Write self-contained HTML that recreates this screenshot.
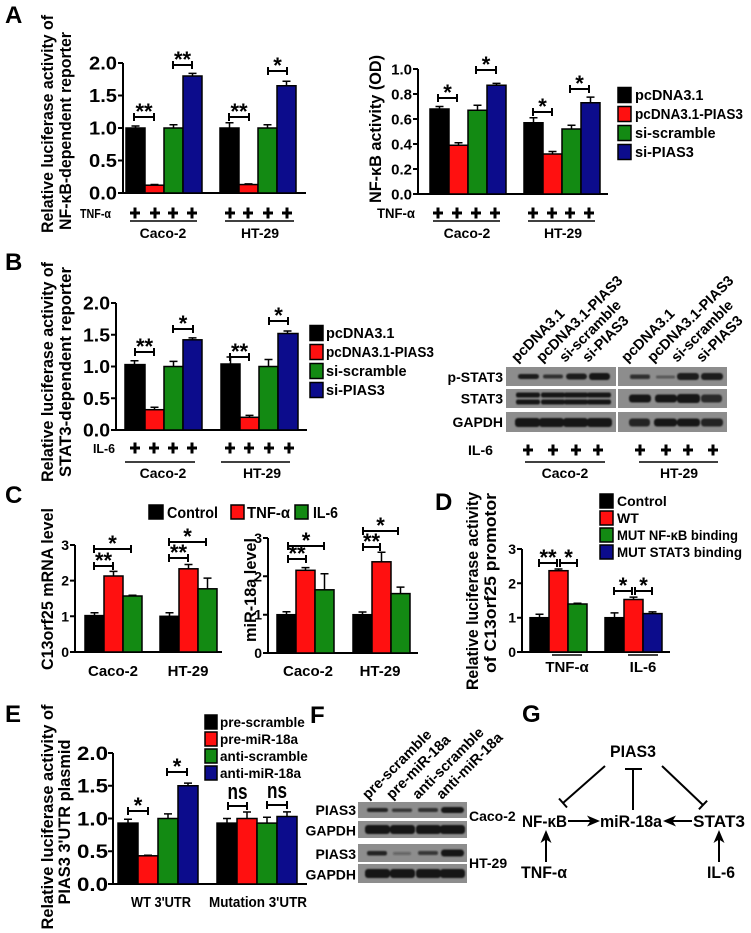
<!DOCTYPE html>
<html><head><meta charset="utf-8"><style>
html,body{margin:0;padding:0;background:#fff;}
svg{display:block;}
text{font-family:"Liberation Sans",Arial,sans-serif;font-weight:bold;fill:#000;}
.ax{stroke:#000;stroke-width:2;fill:none;}
.eb{stroke:#000;stroke-width:1.5;fill:none;}
.br{stroke:#000;stroke-width:2;fill:none;}
.ul{stroke:#000;stroke-width:1.5;fill:none;}
.k{fill:#000;stroke:#000;stroke-width:1.5}
.r{fill:#ff1010;stroke:#000;stroke-width:1.5}
.g{fill:#138a13;stroke:#000;stroke-width:1.5}
.b{fill:#0c0c8c;stroke:#000;stroke-width:1.5}
.pl{stroke:#000;stroke-width:3;fill:none}
.bg{fill:#8d8d8d}
</style></head><body>
<svg width="751" height="933" viewBox="0 0 751 933" xmlns="http://www.w3.org/2000/svg">
<defs><filter id="bl" x="-20%" y="-50%" width="140%" height="200%"><feGaussianBlur stdDeviation="0.9"/></filter></defs>

<!-- ===== Panel A left ===== -->
<text x="5" y="23" font-size="24">A</text>
<text transform="translate(53,124) rotate(-90)" text-anchor="middle" font-size="17" textLength="218" lengthAdjust="spacingAndGlyphs">Relative luciferase activity of</text>
<text transform="translate(71,131) rotate(-90)" text-anchor="middle" font-size="17" textLength="198" lengthAdjust="spacingAndGlyphs">NF-κB-dependent reporter</text>
<path class="ax" d="M123 63V193H306M118 63H123M118 95.5H123M118 128H123M118 160.5H123M118 193H123"/>
<g font-size="18" text-anchor="end">
<text x="117" y="69.5" textLength="28" lengthAdjust="spacingAndGlyphs">2.0</text>
<text x="117" y="102" textLength="28" lengthAdjust="spacingAndGlyphs">1.5</text>
<text x="117" y="134.5" textLength="28" lengthAdjust="spacingAndGlyphs">1.0</text>
<text x="117" y="167" textLength="28" lengthAdjust="spacingAndGlyphs">0.5</text>
<text x="117" y="199.5" textLength="28" lengthAdjust="spacingAndGlyphs">0.0</text>
</g>
<path class="eb" d="M135.5 128V126M131.5 126h8M154.5 185.2V184.5M150.5 184.5h8M173.5 128V124.7M169.5 124.7h8M192.5 76V73.4M188.5 73.4h8M229.5 128V122.8M225.5 122.8h8M248.5 184.5V183.9M244.5 183.9h8M267.5 128V124.7M263.5 124.7h8M286.5 85.75V81.2M282.5 81.2h8"/>
<rect class="k" x="126" y="128" width="19" height="65"/>
<rect class="r" x="145" y="185.2" width="19" height="7.8"/>
<rect class="g" x="164" y="128" width="19" height="65"/>
<rect class="b" x="183" y="76" width="19" height="117"/>
<rect class="k" x="220" y="128" width="19" height="65"/>
<rect class="r" x="239" y="184.55" width="19" height="8.45"/>
<rect class="g" x="258" y="128" width="19" height="65"/>
<rect class="b" x="277" y="85.75" width="19" height="107.25"/>
<path class="br" d="M134 113V121M134 117H154M154 113V121M173 61V69M173 65H192M192 61V69M229 113V121M229 117H249M249 113V121M268 67V75M268 71H287M287 67V75"/>
<g font-size="22" text-anchor="middle">
<text x="144" y="119">**</text><text x="182.5" y="67">**</text><text x="239" y="119">**</text><text x="277.5" y="73">*</text>
</g>
<text x="80" y="218" font-size="13" textLength="31" lengthAdjust="spacingAndGlyphs">TNF-α</text>
<path class="pl" d="M130 213h10M135 207.5v11M150 213h10M155 207.5v11M168 213h10M173 207.5v11M187 213h10M192 207.5v11M225 213h10M230 207.5v11M243 213h10M248 207.5v11M263 213h10M268 207.5v11M282 213h10M287 207.5v11"/>
<path class="ul" d="M130 221H197M225 221H294"/>
<g font-size="14" text-anchor="middle"><text x="163" y="238">Caco-2</text><text x="260" y="238">HT-29</text></g>

<!-- ===== Panel A right ===== -->
<text transform="translate(381,129) rotate(-90)" text-anchor="middle" font-size="17" textLength="148" lengthAdjust="spacingAndGlyphs">NF-κB activity (OD)</text>
<path class="ax" d="M418 69V194H608M413 69H418M413 94H418M413 119H418M413 144H418M413 169H418M413 194H418"/>
<g font-size="15" text-anchor="end">
<text x="412" y="74.5">1.0</text><text x="412" y="99.5">0.8</text><text x="412" y="124.5">0.6</text><text x="412" y="149.5">0.4</text><text x="412" y="174.5">0.2</text><text x="412" y="199.5">0.0</text>
</g>
<path class="eb" d="M439.5 109V106.5M435.5 106.5h8M458.5 145.25V142.75M454.5 142.75h8M477.5 110.25V105.25M473.5 105.25h8M496.5 85.25V83.4M492.5 83.4h8M533.5 122.75V117.75M529.5 117.75h8M552.5 154V151.5M548.5 151.5h8M571.5 129V125.25M567.5 125.25h8M590.5 102.75V97.1M586.5 97.1h8"/>
<rect class="k" x="430" y="109" width="19" height="85"/>
<rect class="r" x="449" y="145.25" width="19" height="48.75"/>
<rect class="g" x="468" y="110.25" width="19" height="83.75"/>
<rect class="b" x="487" y="85.25" width="19" height="108.75"/>
<rect class="k" x="524" y="122.75" width="19" height="71.25"/>
<rect class="r" x="543" y="154" width="19" height="40"/>
<rect class="g" x="562" y="129" width="19" height="65"/>
<rect class="b" x="581" y="102.75" width="19" height="91.25"/>
<path class="br" d="M438 94V102M438 98H457M457 94V102M476 66V74M476 70H496M496 66V74M533 108V116M533 112H552M552 108V116M570 85V93M570 89H589M589 85V93"/>
<g font-size="22" text-anchor="middle">
<text x="447.5" y="100">*</text><text x="486" y="72">*</text><text x="542.5" y="114">*</text><text x="579.5" y="91">*</text>
</g>
<rect class="k" x="618" y="87.5" width="13" height="15"/>
<rect class="r" x="618" y="106.5" width="13" height="15"/>
<rect class="g" x="618" y="125.5" width="13" height="15"/>
<rect class="b" x="618" y="144.5" width="13" height="15"/>
<g font-size="14.5">
<text x="635" y="100">pcDNA3.1</text><text x="635" y="119" textLength="108" lengthAdjust="spacingAndGlyphs">pcDNA3.1-PIAS3</text><text x="635" y="138">si-scramble</text><text x="635" y="157">si-PIAS3</text>
</g>
<text x="377" y="218" font-size="14" textLength="38" lengthAdjust="spacingAndGlyphs">TNF-α</text>
<path class="pl" d="M433 213h10M438 207.5v11M452 213h10M457 207.5v11M471 213h10M476 207.5v11M490 213h10M495 207.5v11M528 213h10M533 207.5v11M547 213h10M552 207.5v11M565 213h10M570 207.5v11M584 213h10M589 207.5v11"/>
<path class="ul" d="M433 221H500M528 221H595"/>
<g font-size="14" text-anchor="middle"><text x="467" y="238">Caco-2</text><text x="563" y="238">HT-29</text></g>

<!-- ===== Panel B left ===== -->
<text x="5" y="270" font-size="24">B</text>
<text transform="translate(53,372) rotate(-90)" text-anchor="middle" font-size="17" textLength="220" lengthAdjust="spacingAndGlyphs">Relative luciferase activity of</text>
<text transform="translate(71,372) rotate(-90)" text-anchor="middle" font-size="17" textLength="210" lengthAdjust="spacingAndGlyphs">STAT3-dependent reporter</text>
<path class="ax" d="M116 303V430H307M111 303H116M111 334.75H116M111 366.5H116M111 398.25H116M111 430H116"/>
<g font-size="18" text-anchor="end">
<text x="110" y="309.5" textLength="27" lengthAdjust="spacingAndGlyphs">2.0</text>
<text x="110" y="341.25" textLength="27" lengthAdjust="spacingAndGlyphs">1.5</text>
<text x="110" y="373" textLength="27" lengthAdjust="spacingAndGlyphs">1.0</text>
<text x="110" y="404.75" textLength="27" lengthAdjust="spacingAndGlyphs">0.5</text>
<text x="110" y="436.5" textLength="27" lengthAdjust="spacingAndGlyphs">0.0</text>
</g>
<path class="eb" d="M134.5 364.6V360.8M130.5 360.8h8M154.5 409.7V407.2M150.5 407.2h8M173.5 366.5V361.4M169.5 361.4h8M192.5 339.8V337.9M188.5 337.9h8M230.5 364V357M226.5 357h8M249.5 417.3V415.4M245.5 415.4h8M268.5 366.5V359.5M264.5 359.5h8M287.5 333.5V331M283.5 331h8"/>
<rect class="k" x="125" y="364.6" width="20" height="65.4"/>
<rect class="r" x="145" y="409.7" width="19" height="20.3"/>
<rect class="g" x="164" y="366.5" width="19" height="63.5"/>
<rect class="b" x="183" y="339.8" width="19" height="90.2"/>
<rect class="k" x="221" y="364" width="19" height="66"/>
<rect class="r" x="240" y="417.3" width="19" height="12.7"/>
<rect class="g" x="259" y="366.5" width="19" height="63.5"/>
<rect class="b" x="278" y="333.5" width="20" height="96.5"/>
<path class="br" d="M135 348V356M135 352H154M154 348V356M173 325V333M173 329H193M193 325V333M230 353V361M230 357H249M249 353V361M269 317V325M269 321H288M288 317V325"/>
<g font-size="22" text-anchor="middle">
<text x="144.5" y="354">**</text><text x="183" y="331">*</text><text x="239.5" y="359">**</text><text x="278.5" y="323">*</text>
</g>
<text x="93" y="453" font-size="13" textLength="22" lengthAdjust="spacingAndGlyphs">IL-6</text>
<path class="pl" d="M130 448h10M135 442.5v11M149 448h10M154 442.5v11M168 448h10M173 442.5v11M187 448h10M192 442.5v11M225 448h10M230 442.5v11M244 448h10M249 442.5v11M264 448h10M269 442.5v11M284 448h10M289 442.5v11"/>
<path class="ul" d="M125 462H195M221 462H290"/>
<g font-size="14" text-anchor="middle"><text x="163" y="478">Caco-2</text><text x="262" y="478">HT-29</text></g>
<rect class="k" x="310" y="325.5" width="13" height="15"/>
<rect class="r" x="310" y="344.5" width="13" height="15"/>
<rect class="g" x="310" y="363.5" width="13" height="15"/>
<rect class="b" x="310" y="382.5" width="13" height="15"/>
<g font-size="14.5">
<text x="326" y="338">pcDNA3.1</text><text x="326" y="357" textLength="108" lengthAdjust="spacingAndGlyphs">pcDNA3.1-PIAS3</text><text x="326" y="376">si-scramble</text><text x="326" y="395">si-PIAS3</text>
</g>

<!-- ===== Panel B blot ===== -->
<g font-size="14.5">
<text transform="translate(517,363) rotate(-45)">pcDNA3.1</text>
<text transform="translate(542,363) rotate(-45)">pcDNA3.1-PIAS3</text>
<text transform="translate(565,363) rotate(-45)">si-scramble</text>
<text transform="translate(588,363) rotate(-45)">si-PIAS3</text>
<text transform="translate(627,363) rotate(-45)">pcDNA3.1</text>
<text transform="translate(653,363) rotate(-45)">pcDNA3.1-PIAS3</text>
<text transform="translate(677,363) rotate(-45)">si-scramble</text>
<text transform="translate(702,363) rotate(-45)">si-PIAS3</text>
</g>
<rect class="bg" x="506" y="367" width="110" height="19"/>
<rect class="bg" x="618" y="367" width="109" height="19"/>
<rect class="bg" x="506" y="389" width="110" height="19"/>
<rect class="bg" x="618" y="389" width="109" height="19"/>
<rect class="bg" x="506" y="412" width="110" height="20"/>
<rect class="bg" x="618" y="412" width="109" height="20"/>
<g filter="url(#bl)" fill="#151515">
<rect x="518" y="374" width="21" height="5" rx="2.5" opacity=".95"/>
<rect x="543" y="374.5" width="20" height="4" rx="2" opacity=".8"/>
<rect x="566" y="373.5" width="21" height="6" rx="3" opacity=".95"/>
<rect x="589" y="373" width="21" height="7" rx="3"/>
<rect x="630" y="374.5" width="20" height="4.5" rx="2" opacity=".75"/>
<rect x="656" y="375.5" width="19" height="3" rx="1.5" opacity=".45"/>
<rect x="677" y="373" width="22" height="7" rx="3" opacity=".95"/>
<rect x="701" y="373" width="22" height="7" rx="3" opacity=".95"/>
<rect x="516" y="392.5" width="24" height="5" rx="2"/>
<rect x="541" y="392.5" width="24" height="5" rx="2"/>
<rect x="564" y="392.5" width="24" height="5" rx="2"/>
<rect x="587" y="392.5" width="24" height="5" rx="2"/>
<rect x="516" y="399.5" width="24" height="5" rx="2"/>
<rect x="541" y="399.5" width="24" height="5" rx="2"/>
<rect x="564" y="399.5" width="24" height="5" rx="2"/>
<rect x="587" y="399.5" width="24" height="5" rx="2"/>
<rect x="629" y="394.5" width="22" height="8" rx="3"/>
<rect x="655" y="394.5" width="22" height="8" rx="3"/>
<rect x="677" y="394" width="23" height="9" rx="3"/>
<rect x="701" y="394.5" width="21" height="8" rx="3" opacity=".85"/>
<rect x="515" y="418" width="25" height="9" rx="3"/>
<rect x="539" y="418" width="25" height="9" rx="3"/>
<rect x="563" y="418" width="25" height="9" rx="3"/>
<rect x="587" y="418" width="25" height="9" rx="3"/>
<rect x="629" y="418.5" width="21" height="8" rx="3" opacity=".9"/>
<rect x="654" y="418.5" width="23" height="8" rx="3"/>
<rect x="677" y="418.5" width="23" height="8" rx="3"/>
<rect x="701" y="418.5" width="22" height="8" rx="3" opacity=".9"/>
</g>
<g font-size="14" text-anchor="end">
<text x="503" y="382">p-STAT3</text><text x="503" y="403.5">STAT3</text><text x="503" y="427">GAPDH</text>
</g>
<text x="468" y="455" font-size="14" textLength="25" lengthAdjust="spacingAndGlyphs">IL-6</text>
<path class="pl" d="M523 450h10M528 444.5v11M548 450h10M553 444.5v11M571 450h10M576 444.5v11M593 450h10M598 444.5v11M635 450h10M640 444.5v11M661 450h10M666 444.5v11M683 450h10M688 444.5v11M708 450h10M713 444.5v11"/>
<path class="ul" d="M525 462H605M639 462H718"/>
<g font-size="14" text-anchor="middle"><text x="565" y="478">Caco-2</text><text x="679" y="478">HT-29</text></g>

<!-- ===== Panel C ===== -->
<text x="5" y="503" font-size="24">C</text>
<rect class="k" x="149" y="505" width="14" height="14"/>
<text x="167" y="518" font-size="16" textLength="51" lengthAdjust="spacingAndGlyphs">Control</text>
<rect class="r" x="231" y="505" width="13" height="14"/>
<text x="247" y="518" font-size="16" textLength="43" lengthAdjust="spacingAndGlyphs">TNF-α</text>
<rect class="g" x="295" y="505" width="13" height="14"/>
<text x="313" y="518" font-size="16" textLength="25" lengthAdjust="spacingAndGlyphs">IL-6</text>

<text transform="translate(53,589) rotate(-90)" text-anchor="middle" font-size="17" textLength="162" lengthAdjust="spacingAndGlyphs">C13orf25 mRNA level</text>
<path class="ax" d="M75 545V652H222M70 545H75M70 580.6H75M70 616.3H75M70 652H75"/>
<g font-size="14" text-anchor="end">
<text x="69" y="550">3</text><text x="69" y="585.6">2</text><text x="69" y="621.3">1</text><text x="69" y="657">0</text>
</g>
<path class="eb" d="M94.5 615.6V612.7M90.5 612.7h8M113.5 576V571.4M109.5 571.4h8M132.5 596V595.3M128.5 595.3h8M169.5 616.3V612.7M165.5 612.7h8M188.5 568.8V564.5M184.5 564.5h8M207.5 588.8V578.1M203.5 578.1h8"/>
<rect class="k" x="85" y="615.6" width="19" height="36.4"/>
<rect class="r" x="104" y="576" width="19" height="76"/>
<rect class="g" x="123" y="596" width="19" height="56"/>
<rect class="k" x="160" y="616.3" width="19" height="35.7"/>
<rect class="r" x="179" y="568.8" width="19" height="83.2"/>
<rect class="g" x="198" y="588.8" width="19" height="63.2"/>
<path class="br" d="M94 562V570M94 566H113M113 562V570M94 545V553M94 549H131M131 545V553M169 554V562M169 558H188M188 554V562M169 538V546M169 542H206M206 538V546"/>
<g font-size="22" text-anchor="middle">
<text x="103.5" y="568">**</text><text x="112.5" y="551">*</text><text x="178.5" y="560">**</text><text x="187.5" y="544">*</text>
</g>
<g font-size="15" text-anchor="middle"><text x="113" y="676">Caco-2</text><text x="188" y="676">HT-29</text></g>

<text transform="translate(256,590) rotate(-90)" text-anchor="middle" font-size="17" textLength="104" lengthAdjust="spacingAndGlyphs">miR-18a level</text>
<path class="ax" d="M268 538V653H418M263 538H268M263 576.3H268M263 614.7H268M263 653H268"/>
<g font-size="14" text-anchor="end">
<text x="262" y="543">3</text><text x="262" y="581.3">2</text><text x="262" y="619.7">1</text><text x="262" y="658">0</text>
</g>
<path class="eb" d="M286.5 614.7V611.7M282.5 611.7h8M305.5 570.3V567.6M301.5 567.6h8M324.5 589.8V573.7M320.5 573.7h8M362.5 614.7V612M358.5 612h8M381.5 561.8V552.2M377.5 552.2h8M400.5 593.6V587.1M396.5 587.1h8"/>
<rect class="k" x="277" y="614.7" width="19" height="38.3"/>
<rect class="r" x="296" y="570.3" width="19" height="82.7"/>
<rect class="g" x="315" y="589.8" width="19" height="63.2"/>
<rect class="k" x="353" y="614.7" width="19" height="38.3"/>
<rect class="r" x="372" y="561.8" width="19" height="91.2"/>
<rect class="g" x="391" y="593.6" width="19" height="59.4"/>
<path class="br" d="M288 555V563M288 559H306M306 555V563M288 542V550M288 546H324M324 542V550M363 543V551M363 547H380M380 543V551M363 527V535M363 531H398M398 527V535"/>
<g font-size="22" text-anchor="middle">
<text x="297" y="561">**</text><text x="306" y="548">*</text><text x="371.5" y="549">**</text><text x="380.5" y="533">*</text>
</g>
<g font-size="15" text-anchor="middle"><text x="308" y="676">Caco-2</text><text x="380" y="676">HT-29</text></g>

<!-- ===== Panel D ===== -->
<text x="435" y="510" font-size="24">D</text>
<text transform="translate(478,591) rotate(-90)" text-anchor="middle" font-size="17" textLength="198" lengthAdjust="spacingAndGlyphs">Relative luciferase activity</text>
<text transform="translate(496,583) rotate(-90)" text-anchor="middle" font-size="17" textLength="180" lengthAdjust="spacingAndGlyphs">of C13orf25 promotor</text>
<path class="ax" d="M522 549V652H670M517 549H522M517 583.3H522M517 617.7H522M517 652H522"/>
<g font-size="14" text-anchor="end">
<text x="516" y="554">3</text><text x="516" y="588.3">2</text><text x="516" y="622.7">1</text><text x="516" y="657">0</text>
</g>
<path class="eb" d="M539.5 617.7V614.3M535.5 614.3h8M558.5 570.7V569M554.5 569h8M577.5 604V603.3M573.5 603.3h8M614.5 617.7V612.9M610.5 612.9h8M633.5 599.5V597.1M629.5 597.1h8M652.5 613.6V611.9M648.5 611.9h8"/>
<rect class="k" x="530" y="617.7" width="19" height="34.3"/>
<rect class="r" x="549" y="570.7" width="19" height="81.3"/>
<rect class="g" x="568" y="604" width="19" height="48"/>
<rect class="k" x="605" y="617.7" width="19" height="34.3"/>
<rect class="r" x="624" y="599.5" width="19" height="52.5"/>
<rect class="b" x="643" y="613.6" width="19" height="38.4"/>
<path class="br" d="M539 559V567M539 563H557M557 559V567M560 559V567M560 563H577M577 559V567M614 587V595M614 591H632M632 587V595M635 587V595M635 591H652M652 587V595"/>
<g font-size="22" text-anchor="middle">
<text x="548" y="565">**</text><text x="568.5" y="565">*</text><text x="623" y="593">*</text><text x="643.5" y="593">*</text>
</g>
<path class="ul" d="M552 655H582M628 655H658"/>
<g font-size="15" text-anchor="middle"><text x="567" y="672">TNF-α</text><text x="643" y="672">IL-6</text></g>
<rect class="k" x="600" y="494" width="13" height="14"/>
<rect class="r" x="600" y="511" width="13" height="14"/>
<rect class="g" x="600" y="528" width="13" height="14"/>
<rect class="b" x="600" y="545" width="13" height="14"/>
<g font-size="14">
<text x="617" y="506">Control</text><text x="617" y="523">WT</text><text x="617" y="540" textLength="121" lengthAdjust="spacingAndGlyphs">MUT NF-κB binding</text><text x="617" y="557" textLength="125" lengthAdjust="spacingAndGlyphs">MUT STAT3 binding</text>
</g>

<!-- ===== Panel E ===== -->
<text x="5" y="722" font-size="24">E</text>
<text transform="translate(53,817) rotate(-90)" text-anchor="middle" font-size="17" textLength="225" lengthAdjust="spacingAndGlyphs">Relative luciferase activity of</text>
<text transform="translate(70,822) rotate(-90)" text-anchor="middle" font-size="17" textLength="165" lengthAdjust="spacingAndGlyphs">PIAS3 3'UTR plasmid</text>
<path class="ax" d="M113 753V884H307M108 753H113M108 785.75H113M108 818.5H113M108 851.25H113M108 884H113"/>
<g font-size="19" text-anchor="end">
<text x="108" y="759.8" textLength="31" lengthAdjust="spacingAndGlyphs">2.0</text>
<text x="108" y="792.5" textLength="31" lengthAdjust="spacingAndGlyphs">1.5</text>
<text x="108" y="825.3" textLength="31" lengthAdjust="spacingAndGlyphs">1.0</text>
<text x="108" y="858" textLength="31" lengthAdjust="spacingAndGlyphs">0.5</text>
<text x="108" y="890.8" textLength="31" lengthAdjust="spacingAndGlyphs">0.0</text>
</g>
<path class="eb" d="M128 823.1V819.2M124 819.2h8M148 855.8V855.2M144 855.2h8M168 818.5V813.9M164 813.9h8M188 785.75V783.1M184 783.1h8M227 823.1V818.5M223 818.5h8M247 818.5V812M243 812h8M267 823.1V817.2M263 817.2h8M287 816.5V811.9M283 811.9h8"/>
<rect class="k" x="118" y="823.1" width="20" height="60.9"/>
<rect class="r" x="138" y="855.8" width="20" height="28.2"/>
<rect class="g" x="158" y="818.5" width="20" height="65.5"/>
<rect class="b" x="178" y="785.75" width="20" height="98.25"/>
<rect class="k" x="217" y="823.1" width="20" height="60.9"/>
<rect class="r" x="237" y="818.5" width="20" height="65.5"/>
<rect class="g" x="257" y="823.1" width="20" height="60.9"/>
<rect class="b" x="277" y="816.5" width="20" height="67.5"/>
<path class="br" d="M128 807V815M128 811H148M148 807V815M167 768V776M167 772H187M187 768V776M228 802V810M228 806H247M247 802V810M267 801V809M267 805H287M287 801V809"/>
<g font-size="22" text-anchor="middle">
<text x="138" y="813">*</text><text x="177" y="774">*</text>
</g>
<g font-size="22" text-anchor="middle">
<text x="237.5" y="799" textLength="20" lengthAdjust="spacingAndGlyphs">ns</text>
<text x="277" y="798" textLength="20" lengthAdjust="spacingAndGlyphs">ns</text>
</g>
<g font-size="15" text-anchor="middle">
<text x="161" y="907" textLength="60" lengthAdjust="spacingAndGlyphs">WT 3'UTR</text>
<text x="258" y="907" textLength="98" lengthAdjust="spacingAndGlyphs">Mutation 3'UTR</text>
</g>
<rect class="k" x="205" y="715" width="12" height="14"/>
<rect class="r" x="205" y="732" width="12" height="14"/>
<rect class="g" x="205" y="749" width="12" height="14"/>
<rect class="b" x="205" y="766" width="12" height="14"/>
<g font-size="13.5">
<text x="220" y="727">pre-scramble</text><text x="220" y="744">pre-miR-18a</text><text x="220" y="761">anti-scramble</text><text x="220" y="778">anti-miR-18a</text>
</g>

<!-- ===== Panel F ===== -->
<text x="310" y="723" font-size="24">F</text>
<g font-size="14.5">
<text transform="translate(368,800) rotate(-45)">pre-scramble</text>
<text transform="translate(392,800) rotate(-45)">pre-miR-18a</text>
<text transform="translate(418,800) rotate(-45)">anti-scramble</text>
<text transform="translate(442,800) rotate(-45)">anti-miR-18a</text>
</g>
<rect class="bg" x="358" y="802" width="109" height="16"/>
<rect class="bg" x="358" y="821" width="109" height="17"/>
<rect class="bg" x="358" y="844" width="109" height="18"/>
<rect class="bg" x="358" y="864" width="109" height="19"/>
<g filter="url(#bl)" fill="#151515">
<rect x="367" y="808" width="21" height="4" rx="2" opacity=".9"/>
<rect x="392" y="808.5" width="20" height="3.5" rx="1.5" opacity=".7"/>
<rect x="418" y="808" width="20" height="4" rx="2" opacity=".8"/>
<rect x="441" y="807" width="23" height="6" rx="3"/>
<rect x="365" y="825" width="25" height="9" rx="3"/>
<rect x="390" y="825" width="25" height="9" rx="3"/>
<rect x="416" y="825" width="25" height="9" rx="3"/>
<rect x="440" y="825" width="25" height="9" rx="3"/>
<rect x="367" y="851" width="20" height="4.5" rx="2" opacity=".9"/>
<rect x="393" y="852" width="18" height="3" rx="1.5" opacity=".35"/>
<rect x="418" y="851" width="20" height="4" rx="2" opacity=".7"/>
<rect x="441" y="849.5" width="23" height="7" rx="3"/>
<rect x="365" y="869" width="25" height="9" rx="3"/>
<rect x="390" y="869" width="25" height="9" rx="3"/>
<rect x="416" y="869" width="25" height="9" rx="3"/>
<rect x="440" y="869" width="25" height="9" rx="3"/>
</g>
<g font-size="14" text-anchor="end">
<text x="356" y="815">PIAS3</text><text x="356" y="835.5">GAPDH</text><text x="356" y="859">PIAS3</text><text x="356" y="879.5">GAPDH</text>
</g>
<g font-size="14"><text x="469" y="821">Caco-2</text><text x="469" y="868">HT-29</text></g>

<!-- ===== Panel G ===== -->
<text x="522" y="722" font-size="24">G</text>
<g font-size="17">
<text x="633" y="757" text-anchor="middle" textLength="46" lengthAdjust="spacingAndGlyphs">PIAS3</text>
<text x="522" y="827" textLength="45" lengthAdjust="spacingAndGlyphs">NF-κB</text>
<text x="600" y="827" textLength="62" lengthAdjust="spacingAndGlyphs">miR-18a</text>
<text x="693" y="827" textLength="52" lengthAdjust="spacingAndGlyphs">STAT3</text>
<text x="521" y="878" textLength="46" lengthAdjust="spacingAndGlyphs">TNF-α</text>
<text x="707" y="878" textLength="28" lengthAdjust="spacingAndGlyphs">IL-6</text>
</g>
<path stroke="#000" stroke-width="2" fill="none" d="M605 766L563 803M559 798.5L567 807.5M662 766L703 805M698.9 809.3L707.1 800.7M633 810V769M625 769H642M568 821H592M692 821H671M546 862V838M719 862V838"/>
<g fill="#000">
<polygon points="600,821 587,815.5 590.5,821 587,826.5"/>
<polygon points="663,821 676,815.5 672.5,821 676,826.5"/>
<polygon points="546,830 540.5,843 546,839.5 551.5,843"/>
<polygon points="719,830 713.5,843 719,839.5 724.5,843"/>
</g>
</svg>
</body></html>
